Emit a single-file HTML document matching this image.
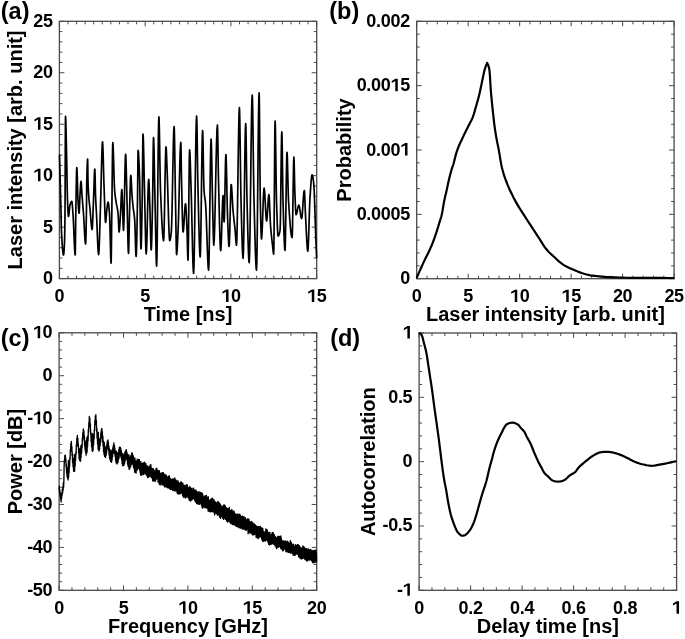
<!DOCTYPE html>
<html><head><meta charset="utf-8"><style>
html,body{margin:0;padding:0;background:#fff;}
svg{display:block;will-change:transform;}
text{font-family:"Liberation Sans", sans-serif;font-weight:bold;fill:#000;}
</style></head><body>
<svg width="685" height="639" viewBox="0 0 685 639">
<path d="M59.4 278.6v-5M59.4 21.3v5M67.98 278.6v-3M67.98 21.3v3M76.55 278.6v-3M76.55 21.3v3M85.13 278.6v-3M85.13 21.3v3M93.71 278.6v-3M93.71 21.3v3M102.28 278.6v-3M102.28 21.3v3M110.86 278.6v-3M110.86 21.3v3M119.44 278.6v-3M119.44 21.3v3M128.01 278.6v-3M128.01 21.3v3M136.59 278.6v-3M136.59 21.3v3M145.17 278.6v-5M145.17 21.3v5M153.74 278.6v-3M153.74 21.3v3M162.32 278.6v-3M162.32 21.3v3M170.9 278.6v-3M170.9 21.3v3M179.47 278.6v-3M179.47 21.3v3M188.05 278.6v-3M188.05 21.3v3M196.63 278.6v-3M196.63 21.3v3M205.2 278.6v-3M205.2 21.3v3M213.78 278.6v-3M213.78 21.3v3M222.36 278.6v-3M222.36 21.3v3M230.93 278.6v-5M230.93 21.3v5M239.51 278.6v-3M239.51 21.3v3M248.09 278.6v-3M248.09 21.3v3M256.66 278.6v-3M256.66 21.3v3M265.24 278.6v-3M265.24 21.3v3M273.82 278.6v-3M273.82 21.3v3M282.39 278.6v-3M282.39 21.3v3M290.97 278.6v-3M290.97 21.3v3M299.55 278.6v-3M299.55 21.3v3M308.12 278.6v-3M308.12 21.3v3M316.7 278.6v-5M316.7 21.3v5M59.4 278.6h5M316.7 278.6h-5M59.4 268.31h3M316.7 268.31h-3M59.4 258.02h3M316.7 258.02h-3M59.4 247.72h3M316.7 247.72h-3M59.4 237.43h3M316.7 237.43h-3M59.4 227.14h5M316.7 227.14h-5M59.4 216.85h3M316.7 216.85h-3M59.4 206.56h3M316.7 206.56h-3M59.4 196.26h3M316.7 196.26h-3M59.4 185.97h3M316.7 185.97h-3M59.4 175.68h5M316.7 175.68h-5M59.4 165.39h3M316.7 165.39h-3M59.4 155.1h3M316.7 155.1h-3M59.4 144.8h3M316.7 144.8h-3M59.4 134.51h3M316.7 134.51h-3M59.4 124.22h5M316.7 124.22h-5M59.4 113.93h3M316.7 113.93h-3M59.4 103.64h3M316.7 103.64h-3M59.4 93.34h3M316.7 93.34h-3M59.4 83.05h3M316.7 83.05h-3M59.4 72.76h5M316.7 72.76h-5M59.4 62.47h3M316.7 62.47h-3M59.4 52.18h3M316.7 52.18h-3M59.4 41.88h3M316.7 41.88h-3M59.4 31.59h3M316.7 31.59h-3M59.4 21.3h5M316.7 21.3h-5" stroke="#4a4a4a" stroke-width="1" fill="none"/>
<rect x="59.4" y="21.3" width="257.3" height="257.3" fill="none" stroke="#4a4a4a" stroke-width="1.3"/>
<path d="M416.7 278.7v-5M416.7 21.3v5M427 278.7v-3M427 21.3v3M437.29 278.7v-3M437.29 21.3v3M447.59 278.7v-3M447.59 21.3v3M457.88 278.7v-3M457.88 21.3v3M468.18 278.7v-5M468.18 21.3v5M478.48 278.7v-3M478.48 21.3v3M488.77 278.7v-3M488.77 21.3v3M499.07 278.7v-3M499.07 21.3v3M509.36 278.7v-3M509.36 21.3v3M519.66 278.7v-5M519.66 21.3v5M529.96 278.7v-3M529.96 21.3v3M540.25 278.7v-3M540.25 21.3v3M550.55 278.7v-3M550.55 21.3v3M560.84 278.7v-3M560.84 21.3v3M571.14 278.7v-5M571.14 21.3v5M581.44 278.7v-3M581.44 21.3v3M591.73 278.7v-3M591.73 21.3v3M602.03 278.7v-3M602.03 21.3v3M612.32 278.7v-3M612.32 21.3v3M622.62 278.7v-5M622.62 21.3v5M632.92 278.7v-3M632.92 21.3v3M643.21 278.7v-3M643.21 21.3v3M653.51 278.7v-3M653.51 21.3v3M663.8 278.7v-3M663.8 21.3v3M674.1 278.7v-5M674.1 21.3v5M416.7 278.7h5M674.1 278.7h-5M416.7 265.83h3M674.1 265.83h-3M416.7 252.96h3M674.1 252.96h-3M416.7 240.09h3M674.1 240.09h-3M416.7 227.22h3M674.1 227.22h-3M416.7 214.35h5M674.1 214.35h-5M416.7 201.48h3M674.1 201.48h-3M416.7 188.61h3M674.1 188.61h-3M416.7 175.74h3M674.1 175.74h-3M416.7 162.87h3M674.1 162.87h-3M416.7 150h5M674.1 150h-5M416.7 137.13h3M674.1 137.13h-3M416.7 124.26h3M674.1 124.26h-3M416.7 111.39h3M674.1 111.39h-3M416.7 98.52h3M674.1 98.52h-3M416.7 85.65h5M674.1 85.65h-5M416.7 72.78h3M674.1 72.78h-3M416.7 59.91h3M674.1 59.91h-3M416.7 47.04h3M674.1 47.04h-3M416.7 34.17h3M674.1 34.17h-3M416.7 21.3h5M674.1 21.3h-5" stroke="#4a4a4a" stroke-width="1" fill="none"/>
<rect x="416.7" y="21.3" width="257.4" height="257.4" fill="none" stroke="#4a4a4a" stroke-width="1.3"/>
<path d="M59.1 590.3v-5M59.1 332.8v5M71.98 590.3v-3M71.98 332.8v3M84.86 590.3v-3M84.86 332.8v3M97.74 590.3v-3M97.74 332.8v3M110.62 590.3v-3M110.62 332.8v3M123.5 590.3v-5M123.5 332.8v5M136.38 590.3v-3M136.38 332.8v3M149.26 590.3v-3M149.26 332.8v3M162.14 590.3v-3M162.14 332.8v3M175.02 590.3v-3M175.02 332.8v3M187.9 590.3v-5M187.9 332.8v5M200.78 590.3v-3M200.78 332.8v3M213.66 590.3v-3M213.66 332.8v3M226.54 590.3v-3M226.54 332.8v3M239.42 590.3v-3M239.42 332.8v3M252.3 590.3v-5M252.3 332.8v5M265.18 590.3v-3M265.18 332.8v3M278.06 590.3v-3M278.06 332.8v3M290.94 590.3v-3M290.94 332.8v3M303.82 590.3v-3M303.82 332.8v3M316.7 590.3v-5M316.7 332.8v5M59.1 590.3h5M316.7 590.3h-5M59.1 581.72h3M316.7 581.72h-3M59.1 573.13h3M316.7 573.13h-3M59.1 564.55h3M316.7 564.55h-3M59.1 555.97h3M316.7 555.97h-3M59.1 547.38h5M316.7 547.38h-5M59.1 538.8h3M316.7 538.8h-3M59.1 530.22h3M316.7 530.22h-3M59.1 521.63h3M316.7 521.63h-3M59.1 513.05h3M316.7 513.05h-3M59.1 504.47h5M316.7 504.47h-5M59.1 495.88h3M316.7 495.88h-3M59.1 487.3h3M316.7 487.3h-3M59.1 478.72h3M316.7 478.72h-3M59.1 470.13h3M316.7 470.13h-3M59.1 461.55h5M316.7 461.55h-5M59.1 452.97h3M316.7 452.97h-3M59.1 444.38h3M316.7 444.38h-3M59.1 435.8h3M316.7 435.8h-3M59.1 427.22h3M316.7 427.22h-3M59.1 418.63h5M316.7 418.63h-5M59.1 410.05h3M316.7 410.05h-3M59.1 401.47h3M316.7 401.47h-3M59.1 392.88h3M316.7 392.88h-3M59.1 384.3h3M316.7 384.3h-3M59.1 375.72h5M316.7 375.72h-5M59.1 367.13h3M316.7 367.13h-3M59.1 358.55h3M316.7 358.55h-3M59.1 349.97h3M316.7 349.97h-3M59.1 341.38h3M316.7 341.38h-3M59.1 332.8h5M316.7 332.8h-5" stroke="#4a4a4a" stroke-width="1" fill="none"/>
<rect x="59.1" y="332.8" width="257.6" height="257.5" fill="none" stroke="#4a4a4a" stroke-width="1.3"/>
<path d="M419.1 590.3v-5M419.1 333v5M431.98 590.3v-3M431.98 333v3M444.85 590.3v-3M444.85 333v3M457.73 590.3v-3M457.73 333v3M470.6 590.3v-5M470.6 333v5M483.48 590.3v-3M483.48 333v3M496.35 590.3v-3M496.35 333v3M509.23 590.3v-3M509.23 333v3M522.1 590.3v-5M522.1 333v5M534.98 590.3v-3M534.98 333v3M547.85 590.3v-3M547.85 333v3M560.73 590.3v-3M560.73 333v3M573.6 590.3v-5M573.6 333v5M586.48 590.3v-3M586.48 333v3M599.35 590.3v-3M599.35 333v3M612.23 590.3v-3M612.23 333v3M625.1 590.3v-5M625.1 333v5M637.98 590.3v-3M637.98 333v3M650.85 590.3v-3M650.85 333v3M663.73 590.3v-3M663.73 333v3M676.6 590.3v-5M676.6 333v5M419.1 590.3h5M676.6 590.3h-5M419.1 577.43h3M676.6 577.43h-3M419.1 564.57h3M676.6 564.57h-3M419.1 551.7h3M676.6 551.7h-3M419.1 538.84h3M676.6 538.84h-3M419.1 525.97h5M676.6 525.97h-5M419.1 513.11h3M676.6 513.11h-3M419.1 500.24h3M676.6 500.24h-3M419.1 487.38h3M676.6 487.38h-3M419.1 474.51h3M676.6 474.51h-3M419.1 461.65h5M676.6 461.65h-5M419.1 448.78h3M676.6 448.78h-3M419.1 435.92h3M676.6 435.92h-3M419.1 423.05h3M676.6 423.05h-3M419.1 410.19h3M676.6 410.19h-3M419.1 397.32h5M676.6 397.32h-5M419.1 384.46h3M676.6 384.46h-3M419.1 371.59h3M676.6 371.59h-3M419.1 358.73h3M676.6 358.73h-3M419.1 345.87h3M676.6 345.87h-3M419.1 333h5M676.6 333h-5" stroke="#4a4a4a" stroke-width="1" fill="none"/>
<rect x="419.1" y="333" width="257.5" height="257.3" fill="none" stroke="#4a4a4a" stroke-width="1.3"/>
<text x="52.6" y="284.1" text-anchor="end" font-size="18" letter-spacing="-0.3">0</text>
<text x="52.6" y="232.64" text-anchor="end" font-size="18" letter-spacing="-0.3">5</text>
<text x="52.6" y="181.18" text-anchor="end" font-size="18" letter-spacing="-0.3"> 0</text>
<path transform="matrix(0.00879 0 0 -0.00879 33.18 181.18)" d="M545 0L545 1160L140 940L140 1165L565 1409L830 1409L830 0Z"/>
<text x="52.6" y="129.72" text-anchor="end" font-size="18" letter-spacing="-0.3"> 5</text>
<path transform="matrix(0.00879 0 0 -0.00879 33.18 129.72)" d="M545 0L545 1160L140 940L140 1165L565 1409L830 1409L830 0Z"/>
<text x="52.6" y="78.26" text-anchor="end" font-size="18" letter-spacing="-0.3">20</text>
<text x="52.6" y="26.8" text-anchor="end" font-size="18" letter-spacing="-0.3">25</text>
<text x="59.4" y="302" text-anchor="middle" font-size="18" letter-spacing="-0.3">0</text>
<text x="145.17" y="302" text-anchor="middle" font-size="18" letter-spacing="-0.3">5</text>
<text x="230.93" y="302" text-anchor="middle" font-size="18" letter-spacing="-0.3"> 0</text>
<path transform="matrix(0.00879 0 0 -0.00879 221.22 302)" d="M545 0L545 1160L140 940L140 1165L565 1409L830 1409L830 0Z"/>
<text x="316.7" y="302" text-anchor="middle" font-size="18" letter-spacing="-0.3"> 5</text>
<path transform="matrix(0.00879 0 0 -0.00879 306.99 302)" d="M545 0L545 1160L140 940L140 1165L565 1409L830 1409L830 0Z"/>
<text x="409.9" y="284.2" text-anchor="end" font-size="18" letter-spacing="-0.3">0</text>
<text x="409.9" y="219.85" text-anchor="end" font-size="18" letter-spacing="-0.3">0.0005</text>
<text x="409.9" y="155.5" text-anchor="end" font-size="18" letter-spacing="-0.3">0.00 </text>
<path transform="matrix(0.00879 0 0 -0.00879 400.19 155.5)" d="M545 0L545 1160L140 940L140 1165L565 1409L830 1409L830 0Z"/>
<text x="409.9" y="91.15" text-anchor="end" font-size="18" letter-spacing="-0.3">0.00 5</text>
<path transform="matrix(0.00879 0 0 -0.00879 390.48 91.15)" d="M545 0L545 1160L140 940L140 1165L565 1409L830 1409L830 0Z"/>
<text x="409.9" y="26.8" text-anchor="end" font-size="18" letter-spacing="-0.3">0.002</text>
<text x="416.7" y="302.1" text-anchor="middle" font-size="18" letter-spacing="-0.3">0</text>
<text x="468.18" y="302.1" text-anchor="middle" font-size="18" letter-spacing="-0.3">5</text>
<text x="519.66" y="302.1" text-anchor="middle" font-size="18" letter-spacing="-0.3"> 0</text>
<path transform="matrix(0.00879 0 0 -0.00879 509.95 302.1)" d="M545 0L545 1160L140 940L140 1165L565 1409L830 1409L830 0Z"/>
<text x="571.14" y="302.1" text-anchor="middle" font-size="18" letter-spacing="-0.3"> 5</text>
<path transform="matrix(0.00879 0 0 -0.00879 561.43 302.1)" d="M545 0L545 1160L140 940L140 1165L565 1409L830 1409L830 0Z"/>
<text x="622.62" y="302.1" text-anchor="middle" font-size="18" letter-spacing="-0.3">20</text>
<text x="674.1" y="302.1" text-anchor="middle" font-size="18" letter-spacing="-0.3">25</text>
<text x="52.3" y="595.8" text-anchor="end" font-size="18" letter-spacing="-0.3">-50</text>
<text x="52.3" y="552.88" text-anchor="end" font-size="18" letter-spacing="-0.3">-40</text>
<text x="52.3" y="509.97" text-anchor="end" font-size="18" letter-spacing="-0.3">-30</text>
<text x="52.3" y="467.05" text-anchor="end" font-size="18" letter-spacing="-0.3">-20</text>
<text x="52.3" y="424.13" text-anchor="end" font-size="18" letter-spacing="-0.3">- 0</text>
<path transform="matrix(0.00879 0 0 -0.00879 32.88 424.13)" d="M545 0L545 1160L140 940L140 1165L565 1409L830 1409L830 0Z"/>
<text x="52.3" y="381.22" text-anchor="end" font-size="18" letter-spacing="-0.3">0</text>
<text x="52.3" y="338.3" text-anchor="end" font-size="18" letter-spacing="-0.3"> 0</text>
<path transform="matrix(0.00879 0 0 -0.00879 32.88 338.3)" d="M545 0L545 1160L140 940L140 1165L565 1409L830 1409L830 0Z"/>
<text x="59.1" y="613.7" text-anchor="middle" font-size="18" letter-spacing="-0.3">0</text>
<text x="123.5" y="613.7" text-anchor="middle" font-size="18" letter-spacing="-0.3">5</text>
<text x="187.9" y="613.7" text-anchor="middle" font-size="18" letter-spacing="-0.3"> 0</text>
<path transform="matrix(0.00879 0 0 -0.00879 178.19 613.7)" d="M545 0L545 1160L140 940L140 1165L565 1409L830 1409L830 0Z"/>
<text x="252.3" y="613.7" text-anchor="middle" font-size="18" letter-spacing="-0.3"> 5</text>
<path transform="matrix(0.00879 0 0 -0.00879 242.59 613.7)" d="M545 0L545 1160L140 940L140 1165L565 1409L830 1409L830 0Z"/>
<text x="316.7" y="613.7" text-anchor="middle" font-size="18" letter-spacing="-0.3">20</text>
<text x="412.3" y="595.8" text-anchor="end" font-size="18" letter-spacing="-0.3">- </text>
<path transform="matrix(0.00879 0 0 -0.00879 402.59 595.8)" d="M545 0L545 1160L140 940L140 1165L565 1409L830 1409L830 0Z"/>
<text x="412.3" y="531.47" text-anchor="end" font-size="18" letter-spacing="-0.3">-0.5</text>
<text x="412.3" y="467.15" text-anchor="end" font-size="18" letter-spacing="-0.3">0</text>
<text x="412.3" y="402.82" text-anchor="end" font-size="18" letter-spacing="-0.3">0.5</text>
<text x="412.3" y="338.5" text-anchor="end" font-size="18" letter-spacing="-0.3"> </text>
<path transform="matrix(0.00879 0 0 -0.00879 402.59 338.5)" d="M545 0L545 1160L140 940L140 1165L565 1409L830 1409L830 0Z"/>
<text x="419.1" y="613.7" text-anchor="middle" font-size="18" letter-spacing="-0.3">0</text>
<text x="470.6" y="613.7" text-anchor="middle" font-size="18" letter-spacing="-0.3">0.2</text>
<text x="522.1" y="613.7" text-anchor="middle" font-size="18" letter-spacing="-0.3">0.4</text>
<text x="573.6" y="613.7" text-anchor="middle" font-size="18" letter-spacing="-0.3">0.6</text>
<text x="625.1" y="613.7" text-anchor="middle" font-size="18" letter-spacing="-0.3">0.8</text>
<text x="676.6" y="613.7" text-anchor="middle" font-size="18" letter-spacing="-0.3"> </text>
<path transform="matrix(0.00879 0 0 -0.00879 671.74 613.7)" d="M545 0L545 1160L140 940L140 1165L565 1409L830 1409L830 0Z"/>
<text x="188.05" y="321" text-anchor="middle" font-size="20">Time [ns]</text>
<text transform="translate(21.8 149.95) rotate(-90)" text-anchor="middle" font-size="20">Laser intensity [arb. unit]</text>
<text x="545.4" y="321.1" text-anchor="middle" font-size="20">Laser intensity [arb. unit]</text>
<text transform="translate(350.7 150) rotate(-90)" text-anchor="middle" font-size="20">Probability</text>
<text x="187.9" y="632.7" text-anchor="middle" font-size="20">Frequency [GHz]</text>
<text transform="translate(22.2 461.55) rotate(-90)" text-anchor="middle" font-size="20">Power [dB]</text>
<text x="547.85" y="632.7" text-anchor="middle" font-size="20">Delay time [ns]</text>
<text transform="translate(374.7 461.65) rotate(-90)" text-anchor="middle" font-size="20">Autocorrelation</text>
<text x="0.8" y="19" font-size="23.5">(a)</text>
<text x="329.3" y="19" font-size="23.5">(b)</text>
<text x="0.8" y="346" font-size="23.5">(c)</text>
<text x="330.2" y="346" font-size="23.5">(d)</text>
<polyline points="59.5,155 59.56,157.38 59.62,159.75 59.69,162.12 59.75,164.5 59.81,166.88 59.88,169.25 59.94,171.62 60,174 60.12,178.74 60.25,183.45 60.38,188.15 60.5,192.86 60.62,197.59 60.75,202.35 60.88,207.15 61,212 61.06,214.59 61.12,217.4 61.19,220.31 61.25,223.19 61.31,225.92 61.38,228.38 61.44,230.45 61.5,232 61.75,236.83 62,241.24 62.25,245.16 62.5,248.52 62.75,251.25 63,253.29 63.25,254.56 63.5,255 63.62,254.75 63.75,254.03 63.88,252.88 64,251.33 64.12,249.43 64.25,247.22 64.38,244.73 64.5,242 64.56,240.31 64.62,238.07 64.69,235.3 64.75,232.02 64.81,228.24 64.88,223.96 64.94,219.21 65,214 65.06,205.64 65.12,192.63 65.19,176.74 65.25,159.76 65.31,143.46 65.38,129.61 65.44,120 65.5,116.4 65.62,117.29 65.75,119.77 65.88,123.5 66,128.18 66.12,133.48 66.25,139.1 66.38,144.71 66.5,150 66.62,155.66 66.75,162.3 66.88,169.53 67,176.92 67.12,184.08 67.25,190.58 67.38,196.03 67.5,200 67.62,203.08 67.75,206.07 67.88,208.86 68,211.35 68.12,213.46 68.25,215.08 68.38,216.13 68.5,216.5 68.69,216.07 68.88,214.93 69.06,213.29 69.25,211.36 69.44,209.35 69.62,207.48 69.81,205.96 70,205 70.22,204.29 70.45,203.62 70.67,203.01 70.9,202.47 71.12,202.03 71.35,201.69 71.58,201.48 71.8,201.4 71.95,201.73 72.1,202.63 72.25,204.01 72.4,205.74 72.55,207.72 72.7,209.82 72.85,211.96 73,214 73.28,218.51 73.55,224.45 73.83,231.19 74.1,238.1 74.38,244.56 74.65,249.94 74.92,253.63 75.2,255 75.28,253.7 75.35,250.18 75.42,244.99 75.5,238.72 75.58,231.91 75.65,225.15 75.72,218.99 75.8,214 75.92,206.62 76.05,198.83 76.17,191.05 76.3,183.72 76.42,177.27 76.55,172.13 76.67,168.73 76.8,167.5 76.95,168.63 77.1,171.65 77.25,176.04 77.4,181.27 77.55,186.81 77.7,192.13 77.85,196.7 78,200 78.14,202.31 78.28,204.62 78.41,206.84 78.55,208.87 78.69,210.62 78.82,211.99 78.96,212.88 79.1,213.2 79.21,212.62 79.32,211.04 79.44,208.73 79.55,205.94 79.66,202.91 79.78,199.91 79.89,197.19 80,195 80.12,192.85 80.25,190.58 80.38,188.31 80.5,186.16 80.62,184.27 80.75,182.76 80.88,181.76 81,181.4 81.12,181.8 81.25,182.91 81.38,184.55 81.5,186.56 81.62,188.77 81.75,191.03 81.88,193.16 82,195 82.19,197.43 82.38,199.8 82.56,202.14 82.75,204.46 82.94,206.78 83.12,209.13 83.31,211.53 83.5,214 83.76,217.98 84.03,222.64 84.29,227.61 84.55,232.51 84.81,236.98 85.07,240.63 85.34,243.1 85.6,244 85.7,243.31 85.8,241.35 85.9,238.33 86,234.44 86.1,229.87 86.2,224.81 86.3,219.45 86.4,214 86.45,210.69 86.5,206.42 86.55,201.54 86.6,196.4 86.65,191.33 86.7,186.67 86.75,182.78 86.8,180 86.9,175.87 87,171.99 87.1,168.46 87.2,165.37 87.3,162.81 87.4,160.86 87.5,159.63 87.6,159.2 87.66,160.15 87.72,162.69 87.79,166.36 87.85,170.67 87.91,175.16 87.97,179.36 88.04,182.79 88.1,185 88.35,190.16 88.6,194.33 88.85,197.7 89.1,200.49 89.35,202.91 89.6,205.16 89.85,207.46 90.1,210 90.35,212.93 90.6,216.13 90.85,219.38 91.1,222.49 91.35,225.26 91.6,227.48 91.85,228.96 92.1,229.5 92.27,228.66 92.45,226.36 92.62,222.91 92.8,218.66 92.97,213.91 93.15,209 93.33,204.26 93.5,200 93.66,195.9 93.83,191.11 93.99,186 94.15,180.97 94.31,176.39 94.47,172.65 94.64,170.13 94.8,169.2 94.9,170.13 95,172.62 95.1,176.27 95.2,180.64 95.3,185.32 95.4,189.89 95.5,193.92 95.6,197 95.71,199.62 95.82,201.97 95.94,204.12 96.05,206.12 96.16,208.05 96.28,209.97 96.39,211.93 96.5,214 96.76,219.58 97.03,225.98 97.29,232.72 97.55,239.31 97.81,245.28 98.07,250.13 98.34,253.4 98.6,254.6 98.85,253.13 99.1,249.08 99.35,243.01 99.6,235.49 99.85,227.06 100.1,218.3 100.35,209.76 100.6,202 100.84,194.19 101.07,184.93 101.31,174.98 101.55,165.12 101.79,156.12 102.03,148.73 102.26,143.74 102.5,141.9 102.7,143.32 102.9,147.19 103.1,152.89 103.3,159.84 103.5,167.43 103.7,175.05 103.9,182.11 104.1,188 104.29,193.15 104.47,198.78 104.66,204.53 104.85,210.04 105.04,214.95 105.22,218.91 105.41,221.54 105.6,222.5 105.72,222.16 105.85,221.24 105.97,219.9 106.1,218.27 106.22,216.52 106.35,214.79 106.47,213.23 106.6,212 106.79,210.4 106.97,208.74 107.16,207.1 107.35,205.57 107.54,204.22 107.72,203.16 107.91,202.45 108.1,202.2 108.27,202.46 108.45,203.19 108.62,204.33 108.8,205.81 108.97,207.59 109.15,209.58 109.33,211.74 109.5,214 109.7,218.11 109.9,224.63 110.1,232.63 110.3,241.21 110.5,249.47 110.7,256.49 110.9,261.37 111.1,263.2 111.19,261.76 111.27,257.84 111.36,251.99 111.45,244.8 111.54,236.83 111.62,228.66 111.71,220.86 111.8,214 111.92,204.16 112.05,192.89 112.17,181.04 112.3,169.45 112.42,158.97 112.55,150.44 112.67,144.7 112.8,142.6 113.02,144.34 113.25,148.99 113.47,155.69 113.7,163.58 113.92,171.82 114.15,179.54 114.38,185.88 114.6,190 114.79,192.11 114.97,193.94 115.16,195.54 115.35,196.97 115.54,198.28 115.72,199.52 115.91,200.74 116.1,202 116.35,203.58 116.6,204.92 116.85,206.14 117.1,207.34 117.35,208.62 117.6,210.09 117.85,211.85 118.1,214 118.22,215.69 118.35,218.15 118.47,221.09 118.6,224.19 118.72,227.14 118.85,229.63 118.97,231.36 119.1,232 119.27,231.52 119.45,230.19 119.62,228.19 119.8,225.68 119.97,222.84 120.15,219.83 120.33,216.83 120.5,214 120.66,211.04 120.83,207.37 120.99,203.33 121.15,199.26 121.31,195.5 121.47,192.39 121.64,190.28 121.8,189.5 122.01,191.26 122.22,195.91 122.44,202.47 122.65,210 122.86,217.53 123.08,224.09 123.29,228.74 123.5,230.5 123.76,227.23 124.03,218.59 124.29,206.39 124.55,192.4 124.81,178.41 125.07,166.21 125.34,157.57 125.6,154.3 125.77,155.61 125.95,159.2 126.12,164.57 126.3,171.19 126.47,178.55 126.65,186.15 126.83,193.47 127,200 127.19,207.19 127.38,215.55 127.56,224.41 127.75,233.14 127.94,241.06 128.12,247.54 128.31,251.9 128.5,253.5 128.62,252.27 128.75,248.93 128.88,244 129,238.01 129.12,231.49 129.25,224.97 129.38,218.96 129.5,214 129.66,208.1 129.82,201.73 129.99,195.29 130.15,189.16 130.31,183.72 130.48,179.35 130.64,176.45 130.8,175.4 130.95,176.03 131.1,177.73 131.25,180.23 131.4,183.25 131.55,186.52 131.7,189.75 131.85,192.67 132,195 132.14,196.74 132.28,198.38 132.41,199.95 132.55,201.44 132.69,202.87 132.82,204.26 132.96,205.59 133.1,206.9 133.3,208.63 133.5,210.12 133.7,211.48 133.9,212.81 134.1,214.22 134.3,215.82 134.5,217.71 134.7,220 134.88,223.26 135.05,228.19 135.22,234.13 135.4,240.46 135.57,246.5 135.75,251.62 135.92,255.17 136.1,256.5 136.28,255.16 136.45,251.4 136.62,245.62 136.8,238.2 136.97,229.53 137.15,220.02 137.32,210.04 137.5,200 137.57,194.6 137.65,187.45 137.72,179.31 137.8,170.94 137.88,163.1 137.95,156.55 138.03,152.06 138.1,150.4 138.28,150.96 138.45,152.55 138.62,155.01 138.8,158.19 138.97,161.93 139.15,166.08 139.32,170.49 139.5,175 139.69,181.88 139.88,192 140.06,204.08 140.25,216.83 140.44,228.98 140.62,239.25 140.81,246.35 141,249 141.15,247.81 141.3,244.49 141.45,239.39 141.6,232.88 141.75,225.32 141.9,217.08 142.05,208.52 142.2,200 142.3,192.89 142.4,183.42 142.5,172.6 142.6,161.46 142.7,151.02 142.8,142.3 142.9,136.32 143,134.1 143.19,135.73 143.38,140.2 143.56,146.85 143.75,155.03 143.94,164.08 144.12,173.37 144.31,182.22 144.5,190 144.71,198.84 144.93,208.95 145.14,219.58 145.35,229.96 145.56,239.35 145.77,246.98 145.99,252.12 146.2,254 146.51,250.79 146.82,242.33 147.14,230.36 147.45,216.65 147.76,202.94 148.07,190.97 148.39,182.51 148.7,179.3 148.84,180 148.97,181.93 149.11,184.83 149.25,188.45 149.39,192.54 149.53,196.83 149.66,201.07 149.8,205 149.98,210.54 150.15,217.32 150.32,224.75 150.5,232.21 150.68,239.07 150.85,244.73 151.02,248.58 151.2,250 151.38,248.78 151.55,245.35 151.72,240.12 151.9,233.45 152.07,225.72 152.25,217.31 152.42,208.61 152.6,200 152.71,193.16 152.82,184.14 152.94,173.89 153.05,163.37 153.16,153.53 153.28,145.31 153.39,139.69 153.5,137.6 153.69,139.43 153.88,144.43 154.06,151.87 154.25,161.02 154.44,171.14 154.62,181.5 154.81,191.36 155,200 155.2,209.2 155.4,219.68 155.6,230.67 155.8,241.4 156,251.09 156.2,258.97 156.4,264.26 156.6,266.2 156.89,259.78 157.18,242.87 157.46,218.96 157.75,191.55 158.04,164.14 158.32,140.23 158.61,123.32 158.9,116.9 159.1,119.49 159.3,126.42 159.5,136.47 159.7,148.38 159.9,160.93 160.1,172.88 160.3,182.98 160.5,190 160.89,199.69 161.28,208.95 161.66,217.51 162.05,225.11 162.44,231.49 162.82,236.37 163.21,239.5 163.6,240.6 163.9,236.57 164.2,225.96 164.5,210.95 164.8,193.75 165.1,176.55 165.4,161.54 165.7,150.93 166,146.9 166.14,147.54 166.28,149.31 166.41,151.96 166.55,155.25 166.69,158.94 166.82,162.79 166.96,166.56 167.1,170 167.42,178.83 167.75,189.54 168.07,201.21 168.4,212.87 168.72,223.58 169.05,232.41 169.38,238.39 169.7,240.6 169.9,240.42 170.1,239.92 170.3,239.12 170.5,238.06 170.7,236.79 170.9,235.33 171.1,233.72 171.3,232 171.65,225.11 172,212.06 172.35,195.04 172.7,176.22 173.05,157.78 173.4,141.91 173.75,130.79 174.1,126.6 174.28,128.78 174.45,134.73 174.62,143.56 174.8,154.39 174.97,166.33 175.15,178.5 175.32,190.02 175.5,200 175.64,207.71 175.78,216.41 175.91,225.48 176.05,234.3 176.19,242.25 176.32,248.7 176.46,253.02 176.6,254.6 176.79,253.98 176.97,252.24 177.16,249.6 177.35,246.26 177.54,242.43 177.72,238.3 177.91,234.09 178.1,230 178.44,220.77 178.78,208.27 179.11,193.89 179.45,179.02 179.79,165.03 180.12,153.33 180.46,145.29 180.8,142.3 180.89,143.43 180.98,146.51 181.06,151.03 181.15,156.5 181.24,162.43 181.32,168.31 181.41,173.67 181.5,178 181.7,186.71 181.9,195.83 182.1,204.87 182.3,213.35 182.5,220.78 182.7,226.69 182.9,230.59 183.1,232 183.4,230.79 183.7,227.59 184,223.08 184.3,217.9 184.6,212.72 184.9,208.21 185.2,205.01 185.5,203.8 185.69,204.46 185.88,206.31 186.06,209.12 186.25,212.68 186.44,216.77 186.62,221.16 186.81,225.64 187,230 187.12,233.45 187.25,237.87 187.38,242.82 187.5,247.86 187.62,252.55 187.75,256.45 187.88,259.11 188,260.1 188.2,255.36 188.4,242.87 188.6,225.2 188.8,204.95 189,184.7 189.2,167.03 189.4,154.54 189.6,149.8 189.78,150.77 189.95,153.43 190.12,157.43 190.3,162.42 190.47,168.02 190.65,173.89 190.82,179.67 191,185 191.32,195.89 191.65,209.23 191.97,223.82 192.3,238.46 192.62,251.94 192.95,263.06 193.28,270.61 193.6,273.4 193.97,266.64 194.35,248.82 194.72,223.63 195.1,194.75 195.47,165.87 195.85,140.68 196.22,122.86 196.6,116.1 196.78,118.52 196.95,125.06 197.12,134.63 197.3,146.15 197.47,158.54 197.65,170.69 197.82,181.54 198,190 198.28,201.18 198.55,212.66 198.82,223.9 199.1,234.34 199.38,243.42 199.65,250.6 199.92,255.31 200.2,257 200.5,251.56 200.8,237.23 201.1,216.97 201.4,193.75 201.7,170.53 202,150.27 202.3,135.94 202.6,130.5 202.78,132.77 202.95,138.83 203.12,147.51 203.3,157.67 203.47,168.15 203.65,177.8 203.82,185.47 204,190 204.2,192.59 204.4,194.6 204.6,196.19 204.8,197.54 205,198.83 205.2,200.22 205.4,201.88 205.6,204 205.97,210.29 206.35,219.41 206.72,230.22 207.1,241.6 207.47,252.42 207.85,261.54 208.22,267.85 208.6,270.2 208.91,264.57 209.22,249.72 209.54,228.72 209.85,204.65 210.16,180.58 210.47,159.58 210.79,144.73 211.1,139.1 211.28,140.98 211.45,146.08 211.62,153.62 211.8,162.8 211.97,172.82 212.15,182.89 212.32,192.21 212.5,200 212.66,206.74 212.82,214.12 212.99,221.65 213.15,228.87 213.31,235.31 213.48,240.49 213.64,243.94 213.8,245.2 214.25,240.04 214.7,226.42 215.15,207.17 215.6,185.1 216.05,163.03 216.5,143.78 216.95,130.16 217.4,125 217.54,126.76 217.68,131.53 217.81,138.53 217.95,146.99 218.09,156.14 218.22,165.2 218.36,173.42 218.5,180 218.78,191.48 219.05,203.45 219.32,215.29 219.6,226.38 219.88,236.08 220.15,243.79 220.42,248.87 220.7,250.7 221,248.33 221.3,242.07 221.6,233.23 221.9,223.1 222.2,212.97 222.5,204.12 222.8,197.87 223.1,195.5 223.22,196.64 223.35,199.64 223.47,203.88 223.6,208.75 223.72,213.62 223.85,217.86 223.97,220.86 224.1,222 224.32,219.1 224.55,211.45 224.78,200.64 225,188.25 225.22,175.86 225.45,165.05 225.68,157.4 225.9,154.5 226.1,156.53 226.3,162.01 226.5,170 226.7,179.57 226.9,189.79 227.1,199.72 227.3,208.44 227.5,215 227.7,220.32 227.9,225.75 228.1,231.04 228.3,235.93 228.5,240.17 228.7,243.52 228.9,245.71 229.1,246.5 229.36,243.84 229.62,236.81 229.89,226.88 230.15,215.5 230.41,204.12 230.67,194.19 230.94,187.16 231.2,184.5 231.42,185.31 231.65,187.52 231.88,190.76 232.1,194.67 232.32,198.91 232.55,203.12 232.78,206.93 233,210 233.26,212.87 233.53,215.5 233.79,217.97 234.05,220.33 234.31,222.65 234.57,224.99 234.84,227.42 235.1,230 235.28,232.02 235.45,234.38 235.62,236.9 235.8,239.38 235.97,241.64 236.15,243.49 236.32,244.74 236.5,245.2 236.86,239.28 237.22,223.68 237.59,201.63 237.95,176.35 238.31,151.07 238.68,129.02 239.04,113.42 239.4,107.5 239.6,110.64 239.8,119.09 240,131.41 240.2,146.13 240.4,161.8 240.6,176.97 240.8,190.19 241,200 241.26,210.17 241.53,220.36 241.79,230.17 242.05,239.15 242.31,246.89 242.57,252.94 242.84,256.89 243.1,258.3 243.42,252.51 243.75,237.24 244.07,215.65 244.4,190.9 244.72,166.15 245.05,144.56 245.38,129.29 245.7,123.5 245.86,126.08 246.02,133.04 246.19,143.19 246.35,155.32 246.51,168.27 246.68,180.82 246.84,191.79 247,200 247.28,211.01 247.55,222.01 247.82,232.55 248.1,242.17 248.38,250.44 248.65,256.9 248.92,261.1 249.2,262.6 249.57,255.4 249.95,236.41 250.32,209.57 250.7,178.8 251.07,148.03 251.45,121.19 251.82,102.2 252.2,95 252.42,98.56 252.65,108.15 252.88,122.11 253.1,138.8 253.32,156.59 253.55,173.81 253.78,188.83 254,200 254.31,212.26 254.62,224.55 254.94,236.36 255.25,247.18 255.56,256.48 255.88,263.76 256.19,268.5 256.5,270.2 256.82,262.58 257.15,242.48 257.48,214.07 257.8,181.5 258.12,148.93 258.45,120.52 258.78,100.42 259.1,92.8 259.25,96.62 259.4,106.87 259.55,121.69 259.7,139.25 259.85,157.7 260,175.21 260.15,189.92 260.3,200 260.45,207.15 260.6,214.14 260.75,220.72 260.9,226.65 261.05,231.69 261.2,235.59 261.35,238.11 261.5,239 261.82,236.81 262.15,231.03 262.48,222.86 262.8,213.5 263.12,204.14 263.45,195.97 263.78,190.19 264.1,188 264.41,189.42 264.73,193.16 265.04,198.44 265.35,204.5 265.66,210.56 265.98,215.84 266.29,219.58 266.6,221 266.89,219.87 267.18,216.88 267.46,212.65 267.75,207.8 268.04,202.95 268.32,198.72 268.61,195.73 268.9,194.6 269.1,195.62 269.3,198.36 269.5,202.35 269.7,207.15 269.9,212.27 270.1,217.27 270.3,221.66 270.5,225 270.75,228.17 271,231.06 271.25,233.72 271.5,236.2 271.75,238.52 272,240.74 272.25,242.88 272.5,245 272.65,246.36 272.8,247.84 272.95,249.34 273.1,250.77 273.25,252.05 273.4,253.07 273.55,253.75 273.7,254 273.88,248.29 274.05,233.22 274.23,211.92 274.4,187.5 274.57,163.08 274.75,141.78 274.93,126.71 275.1,121 275.28,123.77 275.45,131.21 275.62,142 275.8,154.82 275.98,168.34 276.15,181.26 276.32,192.25 276.5,200 276.7,206.52 276.9,212.93 277.1,219 277.3,224.5 277.5,229.18 277.7,232.81 277.9,235.16 278.1,236 278.35,235.9 278.6,235.61 278.85,235.13 279.1,234.46 279.35,233.61 279.6,232.58 279.85,231.38 280.1,230 280.31,224.83 280.53,213.27 280.74,197.5 280.95,179.71 281.16,162.07 281.38,146.76 281.59,135.98 281.8,131.9 281.95,134.23 282.1,140.51 282.25,149.64 282.4,160.54 282.55,172.11 282.7,183.27 282.85,192.93 283,200 283.25,209.07 283.5,218.02 283.75,226.51 284,234.21 284.25,240.79 284.5,245.91 284.75,249.22 285,250.4 285.25,246.19 285.5,235.09 285.75,219.39 286,201.4 286.25,183.41 286.5,167.71 286.75,156.61 287,152.4 287.19,154.1 287.38,158.65 287.56,165.23 287.75,173.03 287.94,181.23 288.12,189 288.31,195.53 288.5,200 288.95,207.43 289.4,214.42 289.85,220.8 290.3,226.4 290.75,231.05 291.2,234.57 291.65,236.82 292.1,237.6 292.33,234.14 292.55,225.02 292.77,212.13 293,197.35 293.23,182.57 293.45,169.68 293.67,160.56 293.9,157.1 294.01,158.2 294.12,161.17 294.24,165.49 294.35,170.68 294.46,176.23 294.57,181.63 294.69,186.39 294.8,190 294.96,194.23 295.12,198.52 295.29,202.67 295.45,206.49 295.61,209.8 295.78,212.39 295.94,214.09 296.1,214.7 296.44,214.29 296.78,213.2 297.11,211.66 297.45,209.9 297.79,208.14 298.12,206.6 298.46,205.51 298.8,205.1 299.15,205.68 299.5,207.21 299.85,209.37 300.2,211.85 300.55,214.33 300.9,216.49 301.25,218.02 301.6,218.6 301.94,217.39 302.28,214.21 302.61,209.71 302.95,204.55 303.29,199.39 303.62,194.89 303.96,191.71 304.3,190.5 304.45,191.26 304.6,193.31 304.75,196.35 304.9,200.05 305.05,204.08 305.2,208.13 305.35,211.88 305.5,215 305.79,220.52 306.07,226.48 306.36,232.52 306.65,238.28 306.94,243.39 307.23,247.49 307.51,250.21 307.8,251.2 308.07,249.35 308.35,244.37 308.62,237.14 308.9,228.52 309.18,219.39 309.45,210.61 309.73,203.06 310,197.6 310.26,193.61 310.52,189.61 310.79,185.78 311.05,182.27 311.31,179.25 311.58,176.89 311.84,175.35 312.1,174.8 312.31,175 312.53,175.57 312.74,176.46 312.95,177.64 313.16,179.07 313.38,180.7 313.59,182.49 313.8,184.4 314.04,187.58 314.27,192.47 314.51,198.66 314.75,205.75 314.99,213.34 315.23,221.01 315.46,228.37 315.7,235 315.81,237.89 315.93,240.75 316.04,243.59 316.15,246.42 316.26,249.24 316.38,252.05 316.49,254.87 316.6,257.7" fill="none" stroke="#000" stroke-width="1.7" stroke-linejoin="round" stroke-linecap="round" />
<polyline points="416.9,277.4 417.27,276.54 417.79,275.36 418.4,273.95 419.07,272.42 419.75,270.87 420.4,269.4 421.03,267.99 421.67,266.56 422.32,265.1 422.99,263.62 423.68,262.12 424.4,260.6 425.16,259.05 425.97,257.46 426.8,255.84 427.63,254.22 428.44,252.6 429.2,251 429.92,249.4 430.63,247.8 431.31,246.2 431.96,244.61 432.59,243.04 433.2,241.5 433.77,240.01 434.3,238.57 434.8,237.16 435.29,235.73 435.79,234.25 436.3,232.7 436.84,231.04 437.39,229.28 437.94,227.47 438.49,225.68 439.01,223.94 439.5,222.3 439.95,220.84 440.36,219.52 440.76,218.26 441.14,216.96 441.52,215.54 441.9,213.9 442.29,211.98 442.67,209.84 443.05,207.58 443.43,205.29 443.81,203.06 444.2,201 444.6,199.11 445,197.33 445.4,195.61 445.8,193.92 446.2,192.23 446.6,190.5 446.99,188.73 447.37,186.93 447.75,185.13 448.13,183.35 448.51,181.6 448.9,179.9 449.3,178.24 449.7,176.59 450.1,174.98 450.5,173.41 450.9,171.91 451.3,170.5 451.69,169.22 452.07,168.08 452.45,167 452.83,165.92 453.21,164.78 453.6,163.5 453.99,162.06 454.37,160.5 454.76,158.88 455.16,157.23 455.57,155.62 456,154.1 456.45,152.64 456.93,151.21 457.42,149.81 457.91,148.45 458.41,147.14 458.9,145.9 459.38,144.75 459.86,143.68 460.33,142.66 460.81,141.67 461.3,140.66 461.8,139.6 462.31,138.49 462.84,137.36 463.38,136.22 463.91,135.07 464.46,133.93 465,132.8 465.53,131.71 466.05,130.67 466.57,129.62 467.11,128.56 467.69,127.43 468.3,126.2 468.98,124.88 469.73,123.51 470.5,122.07 471.27,120.57 472.02,119.01 472.7,117.4 473.31,115.72 473.88,113.97 474.42,112.16 474.94,110.3 475.46,108.41 476,106.5 476.55,104.59 477.1,102.67 477.65,100.73 478.2,98.71 478.75,96.62 479.3,94.4 479.86,91.97 480.44,89.34 481.02,86.61 481.58,83.92 482.11,81.37 482.6,79.1 483.03,77.1 483.41,75.27 483.76,73.59 484.09,72.04 484.43,70.58 484.8,69.2 485.22,67.86 485.67,66.57 486.14,65.38 486.57,64.33 486.94,63.46 487.2,62.8 487.45,63.44 487.8,64.19 488.21,65.15 488.64,66.39 489.05,67.98 489.4,70 489.68,72.65 489.93,75.9 490.15,79.51 490.36,83.23 490.58,86.81 490.8,90 491.03,92.81 491.27,95.44 491.5,97.92 491.73,100.32 491.97,102.66 492.2,105 492.43,107.33 492.67,109.61 492.9,111.84 493.13,114.01 493.37,116.14 493.6,118.2 493.83,120.18 494.05,122.08 494.27,123.92 494.5,125.73 494.74,127.55 495,129.4 495.29,131.3 495.6,133.23 495.92,135.17 496.25,137.08 496.58,138.93 496.9,140.7 497.2,142.27 497.49,143.64 497.77,144.96 498.08,146.37 498.41,148 498.8,150 499.23,152.48 499.7,155.36 500.19,158.46 500.73,161.62 501.29,164.69 501.9,167.5 502.55,170.05 503.23,172.48 503.95,174.81 504.7,177.07 505.49,179.29 506.3,181.5 507.14,183.69 508.01,185.83 508.92,187.93 509.85,190 510.81,192.05 511.8,194.1 512.81,196.13 513.85,198.14 514.91,200.13 516.01,202.11 517.14,204.1 518.3,206.1 519.51,208.11 520.78,210.14 522.07,212.16 523.39,214.19 524.7,216.2 526,218.2 527.32,220.23 528.67,222.31 530.03,224.39 531.34,226.4 532.58,228.29 533.7,230 534.65,231.45 535.45,232.68 536.17,233.78 536.89,234.88 537.67,236.08 538.6,237.5 539.68,239.2 540.86,241.11 542.11,243.12 543.4,245.14 544.71,247.07 546,248.8 547.27,250.31 548.55,251.69 549.84,252.96 551.15,254.19 552.5,255.42 553.9,256.7 555.34,258.05 556.82,259.43 558.34,260.82 559.89,262.17 561.48,263.44 563.1,264.6 564.77,265.64 566.5,266.58 568.27,267.44 570.05,268.26 571.83,269.03 573.6,269.8 575.35,270.56 577.1,271.29 578.85,271.99 580.6,272.65 582.35,273.26 584.1,273.8 585.79,274.27 587.4,274.67 589.02,275.02 590.71,275.33 592.54,275.62 594.6,275.9 596.87,276.17 599.28,276.42 601.84,276.64 604.55,276.85 607.4,277.03 610.4,277.2 613.36,277.35 616.24,277.47 619.26,277.57 622.65,277.66 626.62,277.73 631.4,277.8 637.67,277.86 645.4,277.9 653.71,277.94 661.73,277.96 668.59,277.98 673.4,278" fill="none" stroke="#000" stroke-width="2.2" stroke-linejoin="round" stroke-linecap="round" stroke-miterlimit="10"/>
<polyline points="419.6,333.2 419.85,333.41 420.21,333.66 420.63,333.97 421.08,334.38 421.51,334.91 421.9,335.6 422.23,336.45 422.54,337.45 422.84,338.58 423.14,339.8 423.45,341.12 423.8,342.5 424.19,343.97 424.61,345.56 425.06,347.23 425.5,348.96 425.92,350.72 426.3,352.5 426.64,354.29 426.95,356.13 427.24,357.99 427.52,359.9 427.8,361.83 428.1,363.8 428.41,365.81 428.73,367.88 429.04,369.98 429.36,372.09 429.68,374.2 430,376.3 430.31,378.31 430.61,380.23 430.91,382.16 431.22,384.17 431.55,386.35 431.9,388.8 432.26,391.44 432.63,394.18 433.01,397.1 433.42,400.26 433.88,403.74 434.4,407.6 435.01,412.01 435.71,416.94 436.45,422.18 437.2,427.53 437.93,432.77 438.6,437.7 439.21,442.42 439.8,447.13 440.37,451.73 440.91,456.14 441.42,460.26 441.9,464 442.34,467.33 442.75,470.31 443.13,473.01 443.49,475.48 443.85,477.79 444.2,480 444.55,482.01 444.89,483.76 445.22,485.34 445.54,486.87 445.87,488.45 446.2,490.2 446.53,492.12 446.84,494.12 447.16,496.17 447.49,498.26 447.83,500.34 448.2,502.4 448.59,504.47 449.01,506.58 449.44,508.69 449.88,510.76 450.34,512.75 450.8,514.6 451.28,516.32 451.77,517.93 452.27,519.46 452.78,520.92 453.29,522.33 453.8,523.7 454.31,525.05 454.81,526.36 455.32,527.62 455.83,528.81 456.36,529.91 456.9,530.9 457.47,531.79 458.07,532.59 458.68,533.3 459.29,533.92 459.86,534.46 460.4,534.9 460.88,535.24 461.32,535.48 461.73,535.63 462.14,535.71 462.55,535.73 463,535.7 463.46,535.64 463.93,535.54 464.41,535.39 464.9,535.16 465.43,534.83 466,534.4 466.63,533.85 467.3,533.2 468.01,532.46 468.73,531.64 469.43,530.75 470.1,529.8 470.74,528.78 471.36,527.69 471.97,526.53 472.56,525.31 473.14,524.03 473.7,522.7 474.23,521.32 474.74,519.89 475.23,518.41 475.71,516.86 476.2,515.26 476.7,513.6 477.21,511.84 477.73,509.99 478.25,508.07 478.77,506.14 479.29,504.23 479.8,502.4 480.3,500.65 480.79,498.96 481.27,497.3 481.76,495.64 482.27,493.95 482.8,492.2 483.37,490.41 483.97,488.61 484.59,486.78 485.21,484.9 485.82,482.98 486.4,481 486.95,478.89 487.49,476.65 488.02,474.36 488.53,472.1 489.02,469.96 489.5,468 489.96,466.25 490.4,464.63 490.83,463.12 491.24,461.7 491.63,460.34 492,459 492.33,457.73 492.62,456.55 492.89,455.43 493.17,454.32 493.46,453.19 493.8,452 494.19,450.73 494.61,449.4 495.05,448.05 495.5,446.71 495.96,445.42 496.4,444.2 496.83,443.06 497.27,441.98 497.7,440.94 498.13,439.93 498.57,438.96 499,438 499.43,437.08 499.86,436.2 500.29,435.34 500.73,434.5 501.16,433.66 501.6,432.8 502.05,431.9 502.51,430.96 502.98,430.01 503.43,429.1 503.88,428.25 504.3,427.5 504.69,426.85 505.04,426.27 505.38,425.76 505.73,425.3 506.09,424.88 506.5,424.5 506.95,424.16 507.42,423.88 507.92,423.64 508.43,423.43 508.96,423.26 509.5,423.1 510.06,422.96 510.64,422.84 511.24,422.76 511.84,422.7 512.43,422.68 513,422.7 513.55,422.77 514.1,422.89 514.63,423.04 515.15,423.22 515.64,423.41 516.1,423.6 516.51,423.77 516.89,423.94 517.23,424.11 517.57,424.32 517.92,424.57 518.3,424.9 518.7,425.3 519.1,425.77 519.52,426.29 519.95,426.84 520.41,427.42 520.9,428 521.44,428.59 522.03,429.19 522.65,429.81 523.27,430.47 523.86,431.16 524.4,431.9 524.88,432.69 525.3,433.53 525.7,434.4 526.1,435.31 526.52,436.24 527,437.2 527.53,438.16 528.1,439.13 528.69,440.13 529.29,441.18 529.9,442.29 530.5,443.5 531.09,444.82 531.67,446.23 532.26,447.72 532.86,449.24 533.47,450.78 534.1,452.3 534.77,453.85 535.47,455.47 536.19,457.1 536.9,458.69 537.57,460.17 538.2,461.5 538.76,462.64 539.28,463.63 539.76,464.52 540.23,465.37 540.71,466.21 541.2,467.1 541.7,468.05 542.19,469.02 542.68,469.99 543.19,470.94 543.72,471.85 544.3,472.7 544.93,473.48 545.59,474.2 546.29,474.88 547,475.53 547.71,476.16 548.4,476.8 549.06,477.46 549.69,478.13 550.33,478.78 550.99,479.4 551.7,479.94 552.5,480.4 553.4,480.77 554.39,481.09 555.42,481.33 556.49,481.5 557.56,481.6 558.6,481.6 559.63,481.52 560.67,481.36 561.71,481.11 562.73,480.79 563.74,480.38 564.7,479.9 565.62,479.28 566.5,478.53 567.36,477.69 568.21,476.83 569.05,476.01 569.9,475.3 570.77,474.72 571.65,474.23 572.52,473.78 573.39,473.33 574.21,472.82 575,472.2 575.72,471.46 576.37,470.63 576.99,469.74 577.62,468.84 578.28,467.94 579,467.1 579.78,466.32 580.57,465.57 581.41,464.83 582.28,464.09 583.21,463.32 584.2,462.5 585.3,461.6 586.5,460.61 587.76,459.61 589.01,458.62 590.21,457.7 591.3,456.9 592.28,456.22 593.2,455.62 594.07,455.09 594.89,454.61 595.66,454.19 596.4,453.8 597.05,453.46 597.59,453.18 598.09,452.94 598.62,452.74 599.23,452.57 600,452.4 600.95,452.24 602.03,452.09 603.2,451.96 604.41,451.86 605.63,451.8 606.8,451.8 607.93,451.85 609.04,451.93 610.16,452.06 611.28,452.23 612.43,452.45 613.6,452.7 614.81,453 616.05,453.35 617.31,453.74 618.58,454.16 619.85,454.62 621.1,455.1 622.35,455.62 623.62,456.2 624.88,456.81 626.13,457.42 627.34,458.03 628.5,458.6 629.59,459.15 630.61,459.69 631.6,460.21 632.59,460.73 633.61,461.22 634.7,461.7 635.84,462.16 637,462.61 638.2,463.04 639.44,463.46 640.74,463.84 642.1,464.2 643.57,464.55 645.14,464.9 646.76,465.23 648.4,465.51 649.99,465.71 651.5,465.8 652.91,465.77 654.24,465.62 655.54,465.4 656.83,465.13 658.14,464.86 659.5,464.6 660.92,464.36 662.4,464.1 663.89,463.83 665.37,463.56 666.82,463.28 668.2,463 669.59,462.7 671.04,462.38 672.44,462.05 673.73,461.74 674.81,461.49 675.6,461.3" fill="none" stroke="#000" stroke-width="2.2" stroke-linejoin="round" stroke-linecap="round" />
<polyline points="59.1,489.26 59.35,486.28 59.6,493.32 59.85,489.8 60.1,496.17 60.35,493.02 60.6,499.14 60.85,496.51 61.1,501.89 61.35,495.02 61.6,498.14 61.85,492.67 62.1,495.13 62.35,488.92 62.6,492.97 62.85,486.97 63.1,490.37 63.35,482.63 63.6,487.34 63.85,481.61 64.1,467.44 64.35,460.17 64.6,461.67 64.85,455.48 65.1,458.77 65.35,455.2 65.6,460.85 65.85,459.02 66.1,466.84 66.35,464.18 66.6,472.67 66.85,468.57 67.1,476.67 67.35,468.8 67.6,478.53 67.85,467.15 68.1,479.95 68.35,460.45 68.6,477.46 68.85,463.1 69.1,472.74 69.35,463.32 69.6,466.36 69.85,457.79 70.1,458.95 70.35,449.32 70.6,451.56 70.85,443.33 71.1,447.98 71.35,441.49 71.6,448.16 71.85,446.56 72.1,455.52 72.35,452.92 72.6,462.76 72.85,458.82 73.1,466.96 73.35,460.05 73.6,471.32 73.85,458.35 74.1,471.37 74.35,454.47 74.6,471.12 74.85,455.3 75.1,466.13 75.35,456.36 75.6,460.4 75.85,451.96 76.1,454.15 76.35,444.47 76.6,446.52 76.85,437.95 77.1,441.66 77.35,435.48 77.6,442.06 77.85,438.35 78.1,446.55 78.35,444.21 78.6,452.62 78.85,449.55 79.1,458.78 79.35,450.47 79.6,460.28 79.85,448.56 80.1,460.98 80.35,447.92 80.6,461.16 80.85,445.66 81.1,457.2 81.35,446.04 81.6,452.99 81.85,444.2 82.1,447.81 82.35,437.94 82.6,440.36 82.85,432.58 83.1,435.48 83.35,429.04 83.6,435.31 83.85,430.7 84.1,439.09 84.35,435.78 84.6,445.65 84.85,440.9 85.1,449.94 85.35,442.91 85.6,452.41 85.85,443.25 86.1,455.12 86.35,440.29 86.6,453.4 86.85,437.33 87.1,451.93 87.35,438.05 87.6,446.41 87.85,435.54 88.1,440.67 88.35,429.2 88.6,431.62 88.85,422.48 89.1,424.46 89.35,416.54 89.6,423.11 89.85,418.15 90.1,426.96 90.35,423.82 90.6,434.83 90.85,432.22 91.1,441.47 91.35,436.42 91.6,446.64 91.85,437.27 92.1,450.46 92.35,433.63 92.6,451.45 92.85,433.91 93.1,450.12 93.35,436.54 93.6,444.61 93.85,435.18 94.1,439.02 94.35,429.35 94.6,430.44 94.85,420.95 95.1,424.08 95.35,416.08 95.6,420.83 95.85,414.66 96.1,424.85 96.35,420.38 96.6,431.37 96.85,428.25 97.1,438.31 97.35,435.38 97.6,444.33 97.85,434.88 98.1,449.31 98.35,432.3 98.6,450.01 98.85,438.59 99.1,451.03 99.35,440.05 99.6,449.29 99.85,439.77 100.1,445.84 100.35,437.78 100.6,442.77 100.85,432.67 101.1,438.44 101.35,429.44 101.6,436.24 101.85,428.33 102.1,436.53 102.35,431.57 102.6,441.81 102.85,436.17 103.1,446.3 103.35,440.98 103.6,451.95 103.85,443.2 104.1,454.71 104.35,442.34 104.6,456.47 104.85,446.17 105.1,456.16 105.35,447.1 105.6,457.48 105.85,447.21 106.1,455.47 106.35,446.9 106.6,453 106.85,443.83 107.1,449.57 107.35,440.77 107.6,446.99 107.85,440.04 108.1,447.17 108.35,441.8 108.6,450.65 108.85,445.82 109.1,454.86 109.35,448.75 109.6,458.28 109.85,449.72 110.1,460.1 110.35,451.01 110.6,461.5 110.85,450.29 111.1,461.59 111.35,452.01 111.6,462.32 111.85,451.64 112.1,459.64 112.35,449.92 112.6,456.74 112.85,447.66 113.1,453.44 113.35,445.41 113.6,452.61 113.85,443.03 114.1,452.6 114.35,445.12 114.6,453.92 114.85,447.96 115.1,456.12 115.35,450.66 115.6,460.83 115.85,451.71 116.1,462.81 116.35,451.21 116.6,463.13 116.85,452.17 117.1,463.95 117.35,453.03 117.6,462.77 117.85,453.55 118.1,462.29 118.35,452.59 118.6,459.21 118.85,449.36 119.1,457.89 119.35,447.52 119.6,453.47 119.85,446.92 120.1,454.75 120.35,447.33 120.6,455.86 120.85,448.35 121.1,457.77 121.35,450.75 121.6,460.08 121.85,454.37 122.1,463.4 122.35,454.73 122.6,465.65 122.85,453.34 123.1,464.67 123.35,455.38 123.6,465.6 123.85,455.21 124.1,464.76 124.35,454.49 124.6,463.59 124.85,452.1 125.1,461.11 125.35,451.78 125.6,458.6 125.85,450.29 126.1,456.65 126.35,449.57 126.6,459.33 126.85,451.96 127.1,460.49 127.35,454.04 127.6,464.22 127.85,455.66 128.1,466.21 128.35,455.57 128.6,467.07 128.85,454.77 129.1,469.18 129.35,458.1 129.6,469.3 129.85,457.15 130.1,466.78 130.35,458.02 130.6,466.97 130.85,455.74 131.1,464.63 131.35,454.83 131.6,464.18 131.85,452.73 132.1,463.41 132.35,453.31 132.6,463.16 132.85,455.22 133.1,465.24 133.35,455.83 133.6,467.53 133.85,458.24 134.1,468.63 134.35,458.64 134.6,472.28 134.85,457.94 135.1,472.06 135.35,460.34 135.6,471.88 135.85,460.59 136.1,473.14 136.35,462.47 136.6,470.25 136.85,461.5 137.1,470.18 137.35,459.2 137.6,468.52 137.85,459.9 138.1,468.44 138.35,459.34 138.6,468.55 138.85,459.77 139.1,468.54 139.35,459.7 139.6,469.85 139.85,463.15 140.1,472.6 140.35,462.15 140.6,475.02 140.85,461.58 141.1,473.79 141.35,463.13 141.6,475.3 141.85,463.54 142.1,474.28 142.35,463.84 142.6,473.57 142.85,463.2 143.1,473.77 143.35,463.52 143.6,474.62 143.85,462.63 144.1,472.64 144.35,462.24 144.6,470.55 144.85,462.79 145.1,473.67 145.35,463.69 145.6,473.6 145.85,463.79 146.1,474.59 146.35,465.39 146.6,475.1 146.85,467.01 147.1,476.02 147.35,465.94 147.6,477.58 147.85,466.47 148.1,477.37 148.35,468.28 148.6,477.04 148.85,467.65 149.1,475.86 149.35,466.56 149.6,476.22 149.85,465.93 150.1,474.78 150.35,464.92 150.6,474.84 150.85,464.75 151.1,477.23 151.35,467.74 151.6,477.51 151.85,468.96 152.1,477.86 152.35,469.77 152.6,480.38 152.85,468.41 153.1,481.14 153.35,468.68 153.6,480.39 153.85,471.1 154.1,480.64 154.35,470.5 154.6,479.5 154.85,471.46 155.1,481.58 155.35,471.42 155.6,480.94 155.85,468.96 156.1,479.01 156.35,469.42 156.6,477.47 156.85,468.27 157.1,479.04 157.35,470.12 157.6,479.11 157.85,472.24 158.1,482.02 158.35,470.79 158.6,481.93 158.85,472.13 159.1,483.82 159.35,470.79 159.6,484.26 159.85,473.86 160.1,484.87 160.35,473.09 160.6,483.63 160.85,475.23 161.1,484.67 161.35,473.48 161.6,482.72 161.85,473.01 162.1,483.5 162.35,473 162.6,484.2 162.85,472.43 163.1,485.61 163.35,472.73 163.6,484.07 163.85,474.57 164.1,483.81 164.35,474.92 164.6,486.77 164.85,474.08 165.1,487.04 165.35,475.12 165.6,485.37 165.85,477.98 166.1,486.12 166.35,475.15 166.6,487.03 166.85,477.11 167.1,486.72 167.35,477.24 167.6,487.85 167.85,478.63 168.1,485.68 168.35,476.25 168.6,487.93 168.85,478.16 169.1,488.11 169.35,475.92 169.6,487.18 169.85,478.38 170.1,489.18 170.35,478.39 170.6,489.56 170.85,479.85 171.1,489.14 171.35,480.04 171.6,488.64 171.85,479.26 172.1,489.4 172.35,480.17 172.6,490.33 172.85,478.83 173.1,489.51 173.35,479.02 173.6,490.47 173.85,480.58 174.1,489.98 174.35,479.18 174.6,488.59 174.85,477.97 175.1,491.17 175.35,480.22 175.6,490.25 175.85,480 176.1,489.41 176.35,480.73 176.6,491.07 176.85,482.29 177.1,492.88 177.35,482.76 177.6,493.59 177.85,480.63 178.1,492.89 178.35,481.94 178.6,493.78 178.85,483.6 179.1,494.16 179.35,483.39 179.6,492.17 179.85,484.27 180.1,493.3 180.35,482.16 180.6,493.63 180.85,483.33 181.1,491.48 181.35,481.89 181.6,492.4 181.85,483.49 182.1,493.33 182.35,483.19 182.6,495.83 182.85,483.23 183.1,496.25 183.35,485.21 183.6,497.24 183.85,485.31 184.1,496.04 184.35,486.32 184.6,495.75 184.85,485.34 185.1,497.82 185.35,487.35 185.6,497.93 185.85,487.72 186.1,496.7 186.35,484.57 186.6,497.19 186.85,485.57 187.1,494.86 187.35,485.01 187.6,495.09 187.85,487.23 188.1,497.42 188.35,487.72 188.6,497.86 188.85,487.89 189.1,500.02 189.35,487.88 189.6,499.89 189.85,486.49 190.1,500.67 190.35,488.08 190.6,501.03 190.85,487.98 191.1,500.24 191.35,488.63 191.6,499.94 191.85,488.77 192.1,499.63 192.35,490.17 192.6,499.08 192.85,490.33 193.1,498.34 193.35,488.05 193.6,498.32 193.85,488.98 194.1,498.79 194.35,490.9 194.6,500.21 194.85,490.37 195.1,500.87 195.35,492.09 195.6,501.94 195.85,490.03 196.1,502.28 196.35,491.16 196.6,503.58 196.85,492.71 197.1,502.23 197.35,491.92 197.6,503.81 197.85,493.6 198.1,504.11 198.35,494.23 198.6,502.96 198.85,491.75 199.1,502.07 199.35,492.86 199.6,504.37 199.85,492.11 200.1,502.93 200.35,494.25 200.6,502.84 200.85,492.79 201.1,503.9 201.35,493.68 201.6,505.84 201.85,492.93 202.1,507.54 202.35,493.45 202.6,508.14 202.85,494.88 203.1,507.18 203.35,497.2 203.6,506.57 203.85,497.54 204.1,507.04 204.35,496.53 204.6,505.71 204.85,495.98 205.1,507.82 205.35,497.27 205.6,507.43 205.85,495.65 206.1,505.52 206.35,495.38 206.6,508.09 206.85,497.4 207.1,507.81 207.35,497.86 207.6,508.34 207.85,496.87 208.1,511.06 208.35,496.84 208.6,511.13 208.85,500.25 209.1,510.91 209.35,500.31 209.6,511.62 209.85,500.75 210.1,509.49 210.35,499.72 210.6,511.89 210.85,499.24 211.1,511.24 211.35,499.51 211.6,511.06 211.85,498.55 212.1,511.5 212.35,498.27 212.6,510.55 212.85,501.41 213.1,511.75 213.35,499.59 213.6,511.23 213.85,499.52 214.1,512.38 214.35,501.96 214.6,514.91 214.85,501.45 215.1,512.59 215.35,501.99 215.6,512.49 215.85,502.38 216.1,513.48 216.35,503.19 216.6,512.84 216.85,503.89 217.1,514.14 217.35,502.39 217.6,515.3 217.85,501.55 218.1,512.84 218.35,503.55 218.6,513.63 218.85,502.24 219.1,515.23 219.35,505.4 219.6,517.29 219.85,503.58 220.1,516.75 220.35,504.49 220.6,518.36 220.85,505.44 221.1,516.57 221.35,506.69 221.6,516.44 221.85,506.43 222.1,515.97 222.35,507.32 222.6,518.1 222.85,506.56 223.1,518.44 223.35,505.4 223.6,519.45 223.85,505.04 224.1,517.63 224.35,505.02 224.6,518.2 224.85,505.36 225.1,517.07 225.35,505.82 225.6,519.41 225.85,508.12 226.1,518.11 226.35,507.68 226.6,521.02 226.85,508.44 227.1,519.67 227.35,509.69 227.6,522 227.85,508.5 228.1,520.62 228.35,510.27 228.6,521.4 228.85,510.96 229.1,520.17 229.35,507.51 229.6,520.94 229.85,511.38 230.1,522.73 230.35,510.44 230.6,521.92 230.85,510.82 231.1,523.59 231.35,510.61 231.6,521.8 231.85,509.47 232.1,524.05 232.35,511.02 232.6,524.54 232.85,512.79 233.1,522.53 233.35,513.58 233.6,524.59 233.85,510.98 234.1,524.79 234.35,511.95 234.6,524.13 234.85,513.81 235.1,525.27 235.35,514.23 235.6,525.36 235.85,513.86 236.1,526.25 236.35,514.4 236.6,526.42 236.85,514.37 237.1,523.82 237.35,514.1 237.6,526.88 237.85,514.92 238.1,526.86 238.35,515.06 238.6,525.37 238.85,514.27 239.1,527.84 239.35,516.89 239.6,527.6 239.85,514.23 240.1,525.98 240.35,515.44 240.6,527.79 240.85,516.13 241.1,528.64 241.35,516.4 241.6,526.71 241.85,517.82 242.1,527.16 242.35,516.12 242.6,529.06 242.85,517.1 243.1,528.49 243.35,518.77 243.6,529.18 243.85,516.37 244.1,528.85 244.35,517.96 244.6,528.4 244.85,519.18 245.1,529.71 245.35,517.74 245.6,528.61 245.85,520.39 246.1,530.37 246.35,519.96 246.6,528.93 246.85,520.53 247.1,529.42 247.35,518.8 247.6,529.46 247.85,520.64 248.1,533.71 248.35,519.51 248.6,529.99 248.85,518.87 249.1,532.5 249.35,521.1 249.6,531.45 249.85,522.66 250.1,533.01 250.35,522.36 250.6,532.86 250.85,521.73 251.1,532.72 251.35,521.35 251.6,532.14 251.85,521.8 252.1,534.48 252.35,523.3 252.6,534.07 252.85,522.76 253.1,535.11 253.35,524.27 253.6,534.3 253.85,524.58 254.1,533.91 254.35,523.81 254.6,534.6 254.85,524.79 255.1,533.19 255.35,524.91 255.6,533.72 255.85,525.92 256.1,537.18 256.35,526.35 256.6,535.58 256.85,526.1 257.1,537.81 257.35,528.59 257.6,537.25 257.85,526.32 258.1,538.61 258.35,529.02 258.6,537.82 258.85,526.58 259.1,537.47 259.35,528.56 259.6,536.6 259.85,526.64 260.1,536.08 260.35,526.34 260.6,536.63 260.85,528.06 261.1,537.08 261.35,528.1 261.6,538.69 261.85,527.77 262.1,540.05 262.35,530.6 262.6,540.94 262.85,528.77 263.1,541.51 263.35,531.39 263.6,540.37 263.85,531.98 264.1,541.1 264.35,532.03 264.6,540.59 264.85,532.38 265.1,540.63 265.35,532.14 265.6,541.03 265.85,529.01 266.1,539.59 266.35,529.4 266.6,540.15 266.85,531 267.1,539.09 267.35,530.16 267.6,540.65 267.85,533.05 268.1,542.59 268.35,533.19 268.6,544.27 268.85,532.48 269.1,543.32 269.35,533.29 269.6,545 269.85,532.38 270.1,544.08 270.35,534.77 270.6,543.09 270.85,535.17 271.1,544.37 271.35,534.51 271.6,543.57 271.85,533.76 272.1,543.43 272.35,532.36 272.6,542.74 272.85,534.25 273.1,543.96 273.35,532.9 273.6,543.07 273.85,534.86 274.1,544.35 274.35,534.71 274.6,544.66 274.85,536.06 275.1,545.94 275.35,536.7 275.6,545.27 275.85,538.08 276.1,547.35 276.35,538.12 276.6,548.63 276.85,537.33 277.1,546.55 277.35,538.04 277.6,546.28 277.85,536.5 278.1,547.46 278.35,537.25 278.6,546.78 278.85,536.21 279.1,546.26 279.35,538.09 279.6,545.72 279.85,536.72 280.1,546.7 280.35,538.73 280.6,548.07 280.85,536.01 281.1,548.7 281.35,538.09 281.6,548.23 281.85,541.37 282.1,549.56 282.35,540.86 282.6,550.76 282.85,540.81 283.1,550.7 283.35,540.91 283.6,550.1 283.85,541.51 284.1,548.78 284.35,541.09 284.6,548.71 284.85,541.68 285.1,548.84 285.35,541.21 285.6,550.11 285.85,541.14 286.1,551.79 286.35,542.76 286.6,551.28 286.85,542.75 287.1,551.8 287.35,541.11 287.6,551.05 287.85,542.65 288.1,551.98 288.35,542.26 288.6,552.58 288.85,542.8 289.1,551.51 289.35,544.46 289.6,552.31 289.85,543.8 290.1,551.15 290.35,540.63 290.6,553.15 290.85,542.33 291.1,553.18 291.35,542.43 291.6,551.63 291.85,543.88 292.1,552.61 292.35,545.47 292.6,553.16 292.85,544.89 293.1,555.27 293.35,544.16 293.6,554.21 293.85,545.83 294.1,554.65 294.35,546.29 294.6,555.36 294.85,546.56 295.1,554.27 295.35,544.72 295.6,554.84 295.85,545.36 296.1,554.01 296.35,545.65 296.6,553.5 296.85,545.18 297.1,553.79 297.35,544.57 297.6,554.29 297.85,544.38 298.1,554.66 298.35,544.9 298.6,556.62 298.85,546.33 299.1,557.17 299.35,545.79 299.6,557.3 299.85,547.8 300.1,558.16 300.35,547.22 300.6,557.42 300.85,547.61 301.1,559.1 301.35,548.07 301.6,557.83 301.85,548.65 302.1,558.61 302.35,547.82 302.6,558.26 302.85,545.99 303.1,558.18 303.35,547.87 303.6,557.52 303.85,546.64 304.1,557.75 304.35,549.49 304.6,559.05 304.85,547.91 305.1,559.18 305.35,549.77 305.6,559.94 305.85,548.61 306.1,559.85 306.35,548.82 306.6,560.75 306.85,548.71 307.1,558.97 307.35,550.13 307.6,560.87 307.85,550.83 308.1,559.18 308.35,549.03 308.6,557.92 308.85,549.93 309.1,560.11 309.35,549.96 309.6,559.97 309.85,550 310.1,559.14 310.35,549.51 310.6,559.39 310.85,550.74 311.1,559.99 311.35,550.53 311.6,560.69 311.85,550.17 312.1,561.49 312.35,551.87 312.6,562.47 312.85,550.84 313.1,562 313.35,550.58 313.6,562.62 313.85,551.51 314.1,562.86 314.35,550.38 314.6,561.31 314.85,551.47 315.1,561.56 315.35,552.36 315.6,560.74 315.85,550.01 316.1,562.43 316.35,552.69 316.6,561.39" fill="none" stroke="#000" stroke-width="1.35" stroke-linejoin="round"/>
</svg>
</body></html>
